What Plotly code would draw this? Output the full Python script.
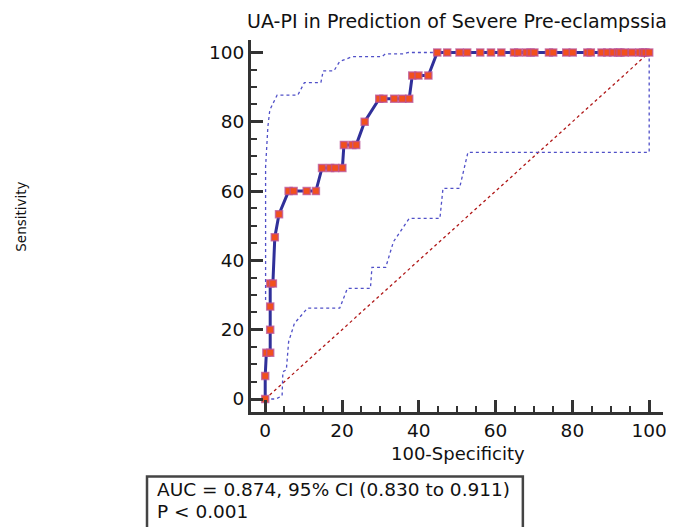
import plotly.graph_objects as go

# ROC curve (100-Specificity, Sensitivity)
roc_fpr = [0, 0, 0.3, 1.3, 1.3, 1.3, 1.3, 2.0, 2.5, 3.6, 6.1, 7.4, 10.8, 13.2,
           14.8, 16.9, 18.2, 20.1, 20.5, 22.7, 23.7, 25.9, 29.7, 30.8, 33.6,
           35.7, 37.5, 38.3, 39.9, 42.5, 44.8, 47.4, 50.6, 52.6, 56.0, 58.8,
           61.5, 64.8, 65.9, 68.0, 69.1, 70.1, 73.9, 75.0, 78.4, 80.1, 83.9,
           84.8, 87.6, 89.1, 90.6, 91.9, 92.5, 93.6, 95.5, 97.5, 98.4, 99.0, 100]
roc_tpr = [0, 6.67, 13.33, 13.33, 20, 26.67, 33.33, 33.33, 46.67, 53.33, 60,
           60, 60, 60, 66.67, 66.67, 66.67, 66.67, 73.33, 73.33, 73.33, 80,
           86.67, 86.67, 86.67, 86.67, 86.67, 93.33, 93.33, 93.33] + [100] * 29

# Upper 95% confidence bound
upper_x = [0.1, 0.1, 0.7, 1.2, 3.1, 8.5, 10.2, 14.5, 15.1, 17.9, 19.4, 22.7,
           30.4, 31.3, 36.0, 37.3, 100]
upper_y = [28.6, 67, 78.6, 83.4, 87.7, 87.7, 91.3, 91.3, 94.7, 94.7, 97.4,
           98.8, 98.8, 99.6, 99.6, 100, 100]

# Lower 95% confidence bound
lower_x = [0, 2.7, 4.4, 4.6, 5.5, 6.1, 7.6, 11.0, 19.4, 21.4, 27.4, 27.8, 31.4,
           33.4, 37.5, 45.5, 46.3, 50.6, 52.8, 100, 100]
lower_y = [0, 0, 0.9, 7.9, 8.4, 16.5, 21.8, 26.2, 26.2, 31.9, 31.9, 38.0, 38.0,
           45.4, 52.1, 52.1, 60.8, 60.8, 71.2, 71.2, 100]

# Reference diagonal
diag_x = [0, 100]
diag_y = [0, 100]

x_ticks = [0, 20, 40, 60, 80, 100]
y_ticks = [0, 20, 40, 60, 80, 100]

title_text = "UA-PI in Prediction of Severe Pre-eclampssia"
x_title = "100-Specificity"
y_title = "Sensitivity"
stat_line1 = "AUC = 0.874, 95% CI (0.830 to 0.911)"
stat_line2 = "P < 0.001"

FONT = "DejaVu Sans"
AXC = "#333333"
OFF = 8  # page body margin

fig = go.Figure()
fig.add_trace(go.Scatter(x=diag_x, y=diag_y, mode="lines",
                         line=dict(color="#b01818", width=1.3, dash="dot"),
                         hoverinfo="skip"))
fig.add_trace(go.Scatter(x=upper_x, y=upper_y, mode="lines",
                         line=dict(color="#5050c8", width=1.3, dash="dot"),
                         hoverinfo="skip"))
fig.add_trace(go.Scatter(x=lower_x, y=lower_y, mode="lines",
                         line=dict(color="#5050c8", width=1.3, dash="dot"),
                         hoverinfo="skip"))
fig.add_trace(go.Scatter(x=roc_fpr, y=roc_tpr, mode="lines+markers",
                         line=dict(color="#30309a", width=3),
                         marker=dict(symbol="square", size=7, color="#f2501c",
                                     line=dict(color="rgba(185,80,150,0.75)", width=1.5))))

fig.update_layout(
    width=674 - OFF, height=527 - OFF,
    margin=dict(l=251 - OFF, r=7, t=40 - OFF, b=115),
    paper_bgcolor="white", plot_bgcolor="white",
    showlegend=False,
    font=dict(family=FONT, color="#111111", size=18),
    title=dict(text=title_text, font=dict(family=FONT, size=19, color="#111111"),
               xref="paper", x=0.5, xanchor="center",
               yref="container", y=1 - (21 - OFF) / (527 - OFF), yanchor="middle"),
)
fig.update_xaxes(range=[-3.7, 103.6], tickvals=x_ticks, showgrid=False, zeroline=False,
                 showline=True, linewidth=3, linecolor=AXC,
                 ticks="inside", ticklen=12, tickwidth=2.5, tickcolor=AXC,
                 tickfont=dict(family=FONT, size=18.5, color="#111111"),
                 minor=dict(dtick=5, tick0=0, ticks="inside", ticklen=6, tickwidth=1.5,
                            tickcolor=AXC, showgrid=False))
fig.update_yaxes(range=[-3.75, 103.6], tickvals=y_ticks, showgrid=False, zeroline=False,
                 showline=True, linewidth=3, linecolor=AXC,
                 ticks="inside", ticklen=12, tickwidth=2.5, tickcolor=AXC,
                 tickfont=dict(family=FONT, size=18.5, color="#111111"),
                 minor=dict(dtick=5, tick0=0, ticks="inside", ticklen=6, tickwidth=1.5,
                            tickcolor=AXC, showgrid=False))

PW, PH, L, T = 416.0, 372.0, 251.0, 40.0
def px(xp):
    return (xp - L) / PW
def py(yp):
    return (T + PH - yp) / PH

fig.add_annotation(text=x_title, xref="paper", yref="paper", x=px(460), y=py(454),
                   xanchor="center", yanchor="middle", showarrow=False,
                   font=dict(family=FONT, size=18, color="#111111"))
fig.add_annotation(text=y_title, xref="paper", yref="paper", x=px(18.5), y=py(217),
                   xanchor="center", yanchor="middle", showarrow=False, textangle=-90,
                   font=dict(family=FONT, size=13.5, color="#111111"))
fig.add_annotation(text=stat_line1, xref="paper", yref="paper", x=px(154), y=py(489.5),
                   xanchor="left", yanchor="middle", showarrow=False,
                   font=dict(family=FONT, size=18.5, color="#111111"))
fig.add_annotation(text=stat_line2, xref="paper", yref="paper", x=px(154), y=py(511),
                   xanchor="left", yanchor="middle", showarrow=False,
                   font=dict(family=FONT, size=18.5, color="#111111"))
fig.add_shape(type="rect", xref="paper", yref="paper",
              x0=px(146), x1=px(525.5), y0=py(476.5), y1=py(545),
              line=dict(color="#444444", width=2.5), fillcolor="rgba(0,0,0,0)")

fig.write_html("out.html")
